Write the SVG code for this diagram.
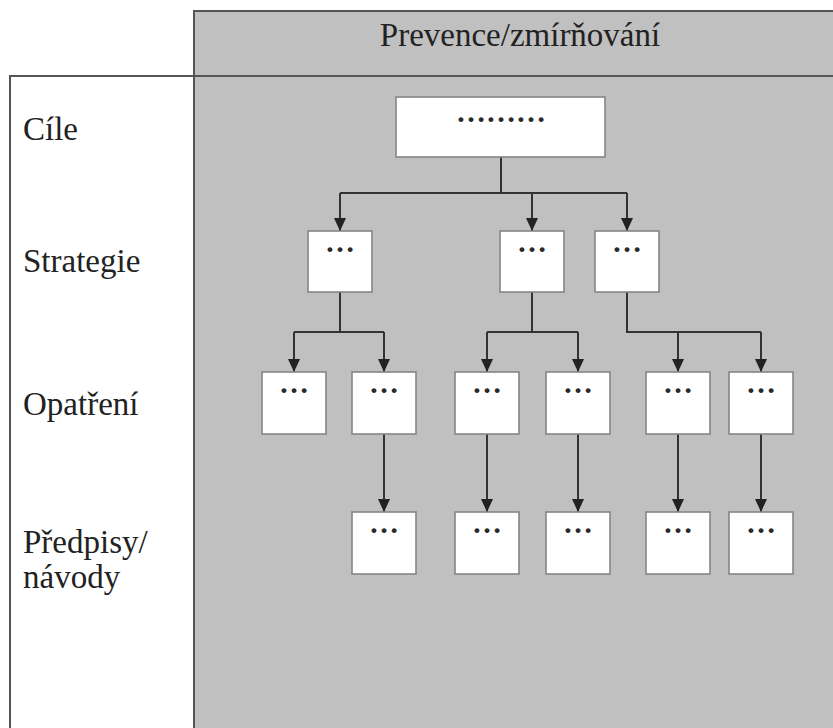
<svg xmlns="http://www.w3.org/2000/svg" width="833" height="728" viewBox="0 0 833 728">
<defs>
<style>
.frame{stroke:#555;stroke-width:2}
.box{fill:#fff;stroke:#858585;stroke-width:1.6}
.lbl{font-size:33px;fill:#222}
.dots{font-size:30px;font-weight:bold;fill:#2a2a2a;text-anchor:middle}
.conn{fill:none;stroke:#333;stroke-width:2}
</style>
<marker id="arr" viewBox="0 0 13 12" refX="13" refY="6" markerWidth="13" markerHeight="12" markerUnits="userSpaceOnUse" orient="auto">
<path d="M0,0 L13,6 L0,12 Z" fill="#222"/>
</marker>
</defs>
<rect width="833" height="728" fill="#fff"/>
<g id="panel" font-family="'Liberation Serif', 'Times New Roman', 'DejaVu Serif', serif">
<rect x="194" y="11" width="645" height="725" fill="#c0c0c0" class="frame"/>
<rect x="10" y="76" width="184" height="660" fill="#fff" class="frame"/>
<line x1="10" y1="76" x2="833" y2="76" class="frame"/>
<text x="520" y="46" class="lbl" text-anchor="middle">Prevence/zmírňování</text>
</g>
<g id="labels" font-family="'Liberation Serif', 'Times New Roman', 'DejaVu Serif', serif">
<text x="23" y="140" class="lbl">Cíle</text>
<text x="23" y="272" class="lbl">Strategie</text>
<text x="23" y="415" class="lbl">Opatření</text>
<text x="23" y="553" class="lbl">Předpisy/</text>
<text x="23" y="588" class="lbl">návody</text>
</g>
<g id="connectors">
<path class="conn" d="M501,157 V193 M340,193 H627"/>
<path class="conn" d="M340,193 V231" marker-end="url(#arr)"/>
<path class="conn" d="M532,193 V231" marker-end="url(#arr)"/>
<path class="conn" d="M627,193 V231" marker-end="url(#arr)"/>
<path class="conn" d="M340,292 V332 M294,332 H384"/>
<path class="conn" d="M294,332 V372" marker-end="url(#arr)"/>
<path class="conn" d="M384,332 V372" marker-end="url(#arr)"/>
<path class="conn" d="M532,292 V332 M487,332 H578"/>
<path class="conn" d="M487,332 V372" marker-end="url(#arr)"/>
<path class="conn" d="M578,332 V372" marker-end="url(#arr)"/>
<path class="conn" d="M627,292 V332 H761"/>
<path class="conn" d="M678,332 V372" marker-end="url(#arr)"/>
<path class="conn" d="M761,332 V372" marker-end="url(#arr)"/>
<path class="conn" d="M384,434 V512" marker-end="url(#arr)"/>
<path class="conn" d="M487,434 V512" marker-end="url(#arr)"/>
<path class="conn" d="M578,434 V512" marker-end="url(#arr)"/>
<path class="conn" d="M678,434 V512" marker-end="url(#arr)"/>
<path class="conn" d="M761,434 V512" marker-end="url(#arr)"/>
</g>
<g font-family="'Liberation Serif', 'Times New Roman', 'DejaVu Serif', serif">
<g id="goal"><rect class="box" x="396" y="97" width="209" height="60"/><text class="dots" x="501" y="122">………</text></g>
<g id="s1"><rect class="box" x="308" y="231" width="64" height="61"/><text class="dots" x="340" y="252">…</text></g>
<g id="s2"><rect class="box" x="500" y="231" width="64" height="61"/><text class="dots" x="532" y="252">…</text></g>
<g id="s3"><rect class="box" x="595" y="231" width="64" height="61"/><text class="dots" x="627" y="252">…</text></g>
<g id="o1"><rect class="box" x="262" y="372" width="64" height="62"/><text class="dots" x="294" y="393">…</text></g>
<g id="o2"><rect class="box" x="352" y="372" width="64" height="62"/><text class="dots" x="384" y="393">…</text></g>
<g id="o3"><rect class="box" x="455" y="372" width="64" height="62"/><text class="dots" x="487" y="393">…</text></g>
<g id="o4"><rect class="box" x="546" y="372" width="64" height="62"/><text class="dots" x="578" y="393">…</text></g>
<g id="o5"><rect class="box" x="646" y="372" width="64" height="62"/><text class="dots" x="678" y="393">…</text></g>
<g id="o6"><rect class="box" x="729" y="372" width="64" height="62"/><text class="dots" x="761" y="393">…</text></g>
<g id="p1"><rect class="box" x="352" y="512" width="64" height="62"/><text class="dots" x="384" y="533">…</text></g>
<g id="p2"><rect class="box" x="455" y="512" width="64" height="62"/><text class="dots" x="487" y="533">…</text></g>
<g id="p3"><rect class="box" x="546" y="512" width="64" height="62"/><text class="dots" x="578" y="533">…</text></g>
<g id="p4"><rect class="box" x="646" y="512" width="64" height="62"/><text class="dots" x="678" y="533">…</text></g>
<g id="p5"><rect class="box" x="729" y="512" width="64" height="62"/><text class="dots" x="761" y="533">…</text></g>
</g>
</svg>
